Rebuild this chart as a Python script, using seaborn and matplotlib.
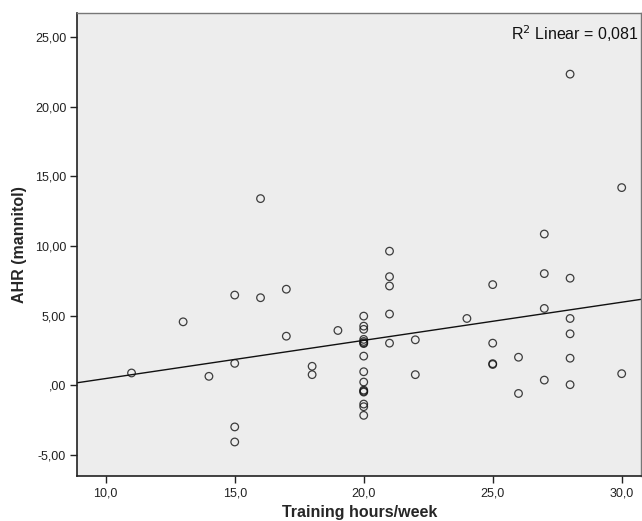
import numpy as np
import pandas as pd
import matplotlib
matplotlib.use("Agg")
import matplotlib.pyplot as plt
import matplotlib.ticker as mticker
import seaborn as sns

# Training hours per week and AHR (mannitol) values
hours = [11, 13, 14, 15, 15, 15, 15, 16, 16, 17, 17, 18, 18, 19,
         20, 20, 20, 20, 20, 20, 20, 20, 20, 20, 20, 20, 20, 20, 20, 20,
         21, 21, 21, 21, 21, 22, 22, 24, 25, 25, 25, 25, 26, 26,
         27, 27, 27, 27, 28, 28, 28, 28, 28, 28, 30, 30]
ahr = [0.89, 4.56, 0.65, 6.48, 1.58, -2.98, -4.06, 13.4, 6.29, 6.9, 3.53, 1.37, 0.77, 3.94,
       4.97, 4.25, 4.02, 3.3, 3.15, 3.05, 3.0, 2.1, 0.98, 0.24, -0.34, -0.42, -0.48, -1.34, -1.53, -2.15,
       9.63, 7.8, 7.13, 5.12, 3.03, 3.27, 0.77, 4.8, 7.23, 3.03, 1.56, 1.5, 2.02, -0.58,
       10.86, 8.02, 5.52, 0.38, 22.33, 7.69, 4.8, 3.7, 1.95, 0.05, 14.19, 0.84]
r2_label = "R$^2$ Linear = 0,081"

df = pd.DataFrame({"hours": hours, "ahr": ahr})

sns.set_theme(style="white")
plt.rcParams["font.family"] = ["Liberation Sans", "DejaVu Sans"]

fig = plt.figure(figsize=(6.42, 5.21), dpi=100)
ax = fig.add_axes([0.1205, 0.0864, 0.878, 0.889])
ax.set_facecolor("#ededed")
ax.set_xlim(8.9, 30.75)
ax.set_ylim(-6.5, 26.73)

sns.regplot(data=df, x="hours", y="ahr", ax=ax, ci=None, truncate=False,
            scatter_kws={"s": 30, "facecolors": "none", "edgecolors": "#111111",
                         "linewidths": 0.9},
            line_kws={"color": "#111111", "linewidth": 1.0})

ax.set_xlim(8.9, 30.75)
ax.set_ylim(-6.5, 26.73)

def ytick_fmt(v, pos):
    s = f"{v:.2f}".replace(".", ",")
    if s.startswith("0,"):
        s = s[1:]
    return s

ax.xaxis.set_major_locator(mticker.MultipleLocator(5))
ax.yaxis.set_major_locator(mticker.MultipleLocator(5))
ax.xaxis.set_major_formatter(mticker.FuncFormatter(lambda v, p: f"{v:.1f}".replace(".", ",")))
ax.yaxis.set_major_formatter(mticker.FuncFormatter(ytick_fmt))
ax.tick_params(axis="both", which="major", direction="out", length=5, width=1,
               color="#222222", labelsize=9, labelcolor="#222222", pad=3,
               bottom=True, left=True)

for side in ["left", "bottom"]:
    ax.spines[side].set_color("#222222")
    ax.spines[side].set_linewidth(1.2)
for side in ["top", "right"]:
    ax.spines[side].set_color("#777777")
    ax.spines[side].set_linewidth(1.0)

ax.set_xlabel("Training hours/week", fontsize=11.5, fontweight="bold", labelpad=4)
ax.set_ylabel("AHR (mannitol)", fontsize=11.5, fontweight="bold", labelpad=6)

ax.text(0.995, 0.955, r2_label, transform=ax.transAxes, ha="right", va="center",
        fontsize=11.5, color="#111111")

fig.savefig("out.png", dpi=100)
